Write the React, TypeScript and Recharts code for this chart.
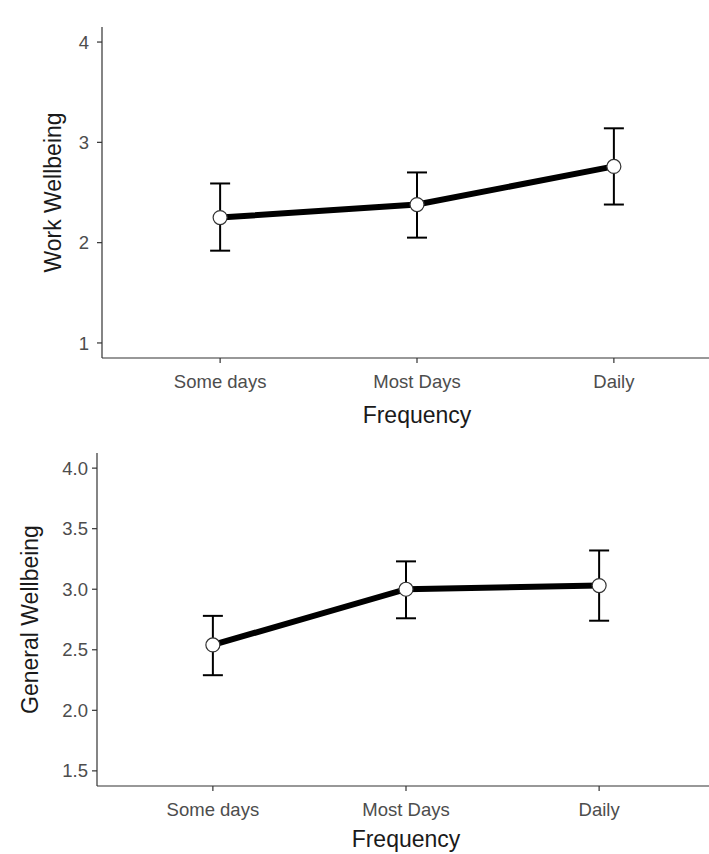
import { LineChart, Line, XAxis, YAxis, ErrorBar } from "recharts";

const categories = ["Some days", "Most Days", "Daily"];

const workMean = [2.25, 2.38, 2.76];
const workLower = [1.92, 2.05, 2.38];
const workUpper = [2.59, 2.7, 3.14];

const generalMean = [2.54, 3.0, 3.03];
const generalLower = [2.29, 2.76, 2.74];
const generalUpper = [2.78, 3.23, 3.32];

const workTicks = [1, 2, 3, 4];
const generalTicks = [1.5, 2.0, 2.5, 3.0, 3.5, 4.0];

function buildRows(mean: number[], lower: number[], upper: number[]) {
  return categories.map((name, i) => ({
    pos: i + 1,
    name,
    mean: mean[i],
    err: [mean[i] - lower[i], upper[i] - mean[i]],
  }));
}

interface PanelProps {
  rows: ReturnType<typeof buildRows>;
  yTicks: number[];
  yDomain: [number, number];
  yLabel: string;
  yLabelX: number;
  yAxisWidth: number;
  yTickMargin: number;
  height: number;
  xAxisHeight: number;
  xTitleDy: number;
  rightMargin: number;
  decimals: number;
}

function Panel({
  rows,
  yTicks,
  yDomain,
  yLabel,
  yLabelX,
  yAxisWidth,
  yTickMargin,
  height,
  xAxisHeight,
  xTitleDy,
  rightMargin,
  decimals,
}: PanelProps) {
  const xTitle = (props: any) => {
    const vb = props.viewBox;
    return (
      <text x={vb.x + vb.width / 2} y={vb.y + xTitleDy} textAnchor="middle" fontSize={23} fill="#1a1a1a">
        Frequency
      </text>
    );
  };
  const yTitle = (props: any) => {
    const vb = props.viewBox;
    const cy = vb.y + vb.height / 2;
    return (
      <text
        x={yLabelX}
        y={cy}
        textAnchor="middle"
        fontSize={23}
        fill="#1a1a1a"
        transform={`rotate(-90, ${yLabelX}, ${cy})`}
      >
        {yLabel}
      </text>
    );
  };

  return (
    <LineChart width={760} height={height} data={rows} margin={{ top: 27, right: rightMargin, left: 0, bottom: 0 }}>
      <XAxis
        dataKey="pos"
        type="number"
        domain={[0.4, 3.6]}
        ticks={[1, 2, 3]}
        tickFormatter={(v: number) => categories[v - 1]}
        height={xAxisHeight}
        tickSize={5}
        tickMargin={12}
        axisLine={{ stroke: "#333", strokeWidth: 1.2 }}
        tickLine={{ stroke: "#333", strokeWidth: 1.2 }}
        tick={{ fill: "#4d4d4d", fontSize: 18.5 }}
        label={xTitle}
      />
      <YAxis
        type="number"
        domain={yDomain}
        ticks={yTicks}
        allowDataOverflow
        width={yAxisWidth}
        tickSize={5}
        tickMargin={yTickMargin}
        tickFormatter={(v: number) => v.toFixed(decimals)}
        axisLine={{ stroke: "#333", strokeWidth: 1.2 }}
        tickLine={{ stroke: "#333", strokeWidth: 1.2 }}
        tick={{ fill: "#4d4d4d", fontSize: 18.5 }}
        label={yTitle}
      />
      <Line
        type="linear"
        dataKey="mean"
        stroke="#000"
        strokeWidth={6}
        dot={{ r: 7, fill: "#fff", stroke: "#333", strokeWidth: 1.2 }}
        activeDot={false}
        isAnimationActive={false}
      >
        <ErrorBar dataKey="err" direction="y" width={10} stroke="#000" strokeWidth={2} />
      </Line>
    </LineChart>
  );
}

export default function App() {
  const workRows = buildRows(workMean, workLower, workUpper);
  const generalRows = buildRows(generalMean, generalLower, generalUpper);

  return (
    <div
      style={{
        position: "absolute",
        left: 0,
        top: 0,
        width: 709,
        height: 854,
        overflow: "hidden",
        background: "#fff",
        fontFamily: "'Liberation Sans', Arial, sans-serif",
      }}
    >
      <div style={{ position: "absolute", left: 0, top: 0 }}>
        <Panel
          rows={workRows}
          yTicks={workTicks}
          yDomain={[0.85, 4.15]}
          yLabel="Work Wellbeing"
          yLabelX={61}
          yAxisWidth={102}
          yTickMargin={8}
          height={430}
          xAxisHeight={72}
          xTitleDy={65}
          rightMargin={28}
          decimals={0}
        />
      </div>
      <div style={{ position: "absolute", left: 0, top: 426 }}>
        <Panel
          rows={generalRows}
          yTicks={generalTicks}
          yDomain={[1.375, 4.125]}
          yLabel="General Wellbeing"
          yLabelX={38}
          yAxisWidth={97}
          yTickMargin={4}
          height={428}
          xAxisHeight={68}
          xTitleDy={61}
          rightMargin={45}
          decimals={1}
        />
      </div>
    </div>
  );
}
